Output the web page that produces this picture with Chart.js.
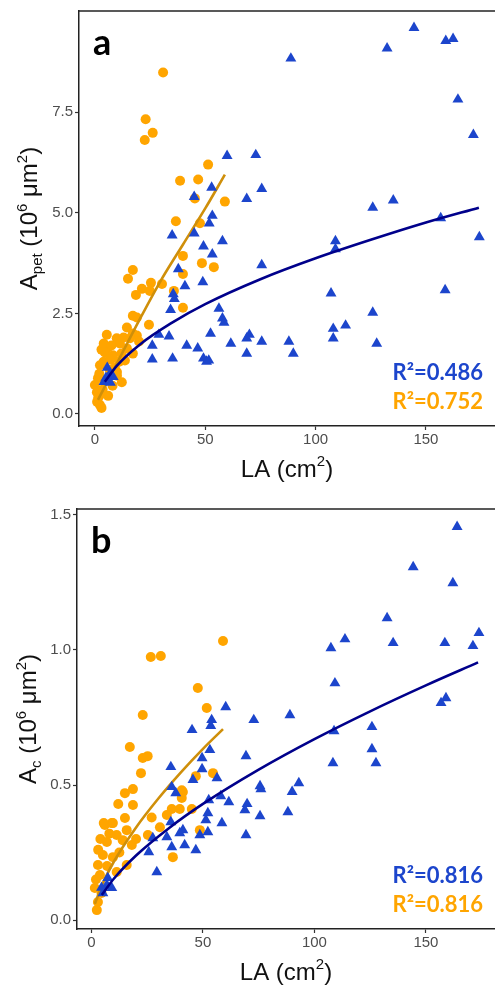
<!DOCTYPE html>
<html>
<head>
<meta charset="utf-8">
<script src="https://cdn.jsdelivr.net/npm/chart.js@4.4.1/dist/chart.umd.min.js"></script>
<style>
  html, body { margin: 0; padding: 0; background: #fff; }
  .panel { position: absolute; left: 0; width: 495px; height: 495px; }
</style>
</head>
<body>
<div class="panel" style="top:0"><canvas id="chartA" width="495" height="495"></canvas></div>
<div class="panel" style="top:495px"><canvas id="chartB" width="495" height="495"></canvas></div>
<script>
// panel a : LA (cm2) vs A_pet (10^6 um2)
const aTriangles = [
  [144.6,9.6],[132.4,9.09],[159,9.28],[162.3,9.33],[88.8,8.84],[164.5,7.82],[171.5,6.94],[59.9,6.42],[72.9,6.44],
  [52.9,5.63],[75.6,5.6],[45,5.4],[68.8,5.35],[125.9,5.13],[135.2,5.31],[156.7,4.87],[174.2,4.4],[53.2,4.93],
  [51.8,4.74],[35,4.44],[45,4.49],[49.2,4.17],[57.8,4.3],[53.2,3.97],[109,4.3],[109,4.1],[75.6,3.7],[37.8,3.6],
  [40.8,3.18],[48.9,3.28],[35.5,2.98],[36,2.86],[107,3.0],[158.7,3.08],[34.3,2.59],[56.2,2.62],[57.8,2.38],
  [58.5,2.27],[125.9,2.52],[108,2.12],[113.6,2.2],[52.4,2.0],[29,1.97],[33.6,1.93],[70,1.97],[26,1.7],[41.6,1.7],
  [46.6,1.63],[61.6,1.75],[68.8,1.88],[75.6,1.8],[87.9,1.8],[89.9,1.5],[68.8,1.5],[108,1.88],[127.7,1.75],
  [26,1.36],[35.2,1.38],[49.2,1.38],[50.6,1.3],[51.6,1.33],[5.6,1.15],[4.1,0.8],[8.3,0.92],[6.8,1.0],[5,0.9],[7,0.78]
];
const aCircles = [
  [30.9,8.49],[23,7.33],[26.2,6.99],[22.6,6.81],[51.3,6.2],[38.6,5.8],[46.8,5.83],[45.3,5.36],[58.9,5.28],
  [36.7,4.79],[47.6,4.74],[39.9,3.93],[48.5,3.75],[53.9,3.65],[39.9,3.48],[17.2,3.58],[15,3.36],[21.3,3.11],
  [25.4,3.26],[30.4,3.23],[18.6,2.96],[24.9,3.06],[35.8,3.06],[39.9,2.64],[19,2.4],[24.5,2.22],[14.5,2.15],
  [5.4,1.97],[9.9,1.88],[17.2,2.0],[19,1.95],[17.2,2.44],[15.9,1.88],[4.5,1.53],[8.2,1.46],[14.5,1.63],[17.2,1.5],
  [2.3,1.21],[1.4,0.89],[12.2,0.79],[0.9,0.54],[2.3,0.22],[6.8,1.09],[10,1.04],[0,0.72],[2.3,0.47],[13.6,1.33],
  [5.9,1.65],[11.3,1.75],[3,0.15],[1.5,0.4],[3.5,0.6],[2,1.0],[4,1.3],[7,1.35],[9,1.15],[8,0.7],[11,1.3],
  [12,1.5],[3,1.6],[6,0.45],[1,0.3],[10,0.95],[4,1.75],[7.5,1.7],[13,1.9],[20,1.8]
];
const aTriangleFit = [[4.5,0.8],[10,1.2],[20,1.71],[35,2.27],[50,2.73],[75,3.35],[100,3.87],[125,4.33],[150,4.76],[174,5.13]];
const aCircleFit = [[1.4,0.35],[10,1.26],[20,2.32],[30,3.33],[40,4.22],[50,5.11],[58.9,5.95]];

// panel b : LA (cm2) vs A_c (10^6 um2)
const bTriangles = [
  [164,1.456],[144.3,1.307],[162.1,1.248],[132.6,1.118],[113.7,1.04],[107.4,1.007],[135.3,1.026],[158.5,1.026],
  [173.8,1.063],[171.1,1.015],[109.2,0.877],[159,0.822],[156.8,0.804],[72.8,0.741],[89,0.759],[108.8,0.7],
  [125.8,0.715],[125.8,0.633],[127.6,0.581],[108.3,0.581],[69.3,0.607],[75.6,0.496],[76,0.485],[93,0.507],[90,0.475],
  [69.8,0.43],[68.8,0.407],[75.6,0.385],[88.1,0.4],[69.3,0.315],[60.2,0.789],[53.9,0.741],[53.5,0.719],[45.1,0.704],
  [53.1,0.63],[49.6,0.6],[49.6,0.559],[35.6,0.567],[45.5,0.519],[56.3,0.526],[36,0.493],[37.8,0.47],[52.6,0.444],
  [58,0.459],[61.6,0.437],[52.2,0.396],[51.3,0.37],[58.5,0.359],[35.6,0.363],[41,0.333],[48.6,0.315],[52.2,0.326],
  [27.5,0.304],[33.8,0.307],[39.6,0.322],[36,0.27],[41.8,0.278],[46.8,0.259],[25.7,0.252],[29.3,0.178],[6.9,0.13],
  [5.1,0.1],[9.1,0.119],[7.3,0.156],[4.5,0.12]
];
const bCircles = [
  [59,1.033],[26.6,0.974],[31.1,0.978],[47.7,0.859],[51.7,0.785],[23,0.759],[17.2,0.641],[23,0.6],[25.2,0.607],
  [22.2,0.544],[46.8,0.533],[54.5,0.544],[15,0.47],[18.6,0.485],[18.6,0.426],[40.5,0.481],[40.5,0.452],[36,0.411],
  [39.6,0.411],[45,0.411],[33.8,0.389],[15,0.378],[5.5,0.359],[9.1,0.359],[6,0.352],[9.6,0.359],[15.8,0.333],
  [11.3,0.315],[6.9,0.289],[14,0.296],[18.1,0.278],[5.1,0.241],[9.6,0.233],[15.8,0.204],[2.9,0.204],[3.8,0.167],
  [11.3,0.178],[1.5,0.119],[2.9,0.067],[2.4,0.037],[30.7,0.344],[41,0.474],[36.5,0.233],[25.3,0.315],[48.6,0.333],
  [4,0.3],[3,0.26],[2,0.15],[4.5,0.1],[7,0.2],[12.5,0.25],[8,0.32],[20,0.3],[12,0.43],[27,0.38]
];
const bTriangleFit = [[4.6,0.093],[10,0.153],[20,0.239],[35,0.342],[50,0.43],[75,0.557],[100,0.67],[125,0.773],[150,0.869],[173.4,0.954]];
const bCircleFit = [[1.5,0.06],[5,0.135],[10,0.216],[20,0.343],[30,0.45],[40,0.546],[50,0.634],[59,0.707]];

const xTicks = [0, 50, 100, 150];
const aYTicks = [0, 2.5, 5, 7.5];
const bYTicks = [0, 0.5, 1, 1.5];

const BLUE = '#1c45cc';
const NAVY = '#00008b';
const ORANGE = '#ffa500';
const GOLD = '#cf8f0a';

const toXY = arr => arr.map(p => ({ x: p[0], y: p[1] }));

// draws panel letter, R2 labels, axis titles with sub/superscripts
const textPlugin = {
  id: 'panelText',
  afterDraw(chart, args, opts) {
    const c = chart.ctx;
    const area = chart.chartArea;
    c.save();
    // top border of the panel box
    c.strokeStyle = '#222';
    c.lineWidth = 1.5;
    c.beginPath();
    c.moveTo(area.left, area.top);
    c.lineTo(area.right, area.top);
    c.stroke();

    c.fillStyle = '#000';
    c.font = 'bold 36px Lato';
    c.textAlign = 'left';
    c.textBaseline = 'alphabetic';
    c.fillText(opts.letter, area.left + 14, area.top + 44);

    c.textAlign = 'right';
    c.font = 'bold 22px Lato';
    c.fillStyle = BLUE;
    c.fillText(opts.r2Blue, area.right - 12, area.bottom - 46);
    c.fillStyle = ORANGE;
    c.fillText(opts.r2Orange, area.right - 12, area.bottom - 17);

    // x title
    drawRich(c, [['LA (cm', 0, 24], ['2', -11, 15], [')', 0, 24]], (area.left + area.right) / 2, area.bottom + 51);

    // y title, rotated
    c.translate(opts.yTitleX, (area.top + area.bottom) / 2);
    c.rotate(-Math.PI / 2);
    drawRich(c, opts.yTitle, 0, 0);
    c.restore();
  }
};

function drawRich(c, parts, cx, baseY) {
  c.fillStyle = '#111';
  c.textAlign = 'left';
  let total = 0;
  parts.forEach(p => {
    c.font = p[2] + 'px "Liberation Sans"';
    total += c.measureText(p[0]).width;
  });
  let x = cx - total / 2;
  parts.forEach(p => {
    c.font = p[2] + 'px "Liberation Sans"';
    c.fillText(p[0], x, baseY + p[1]);
    x += c.measureText(p[0]).width;
  });
}

function makeChart(id, cfg) {
  const tickFont = { family: 'Liberation Sans', size: 15 };
  return new Chart(document.getElementById(id), {
    type: 'scatter',
    data: {
      datasets: [
        { data: toXY(cfg.triFit), showLine: true, borderColor: NAVY, borderWidth: 2.6, pointRadius: 0, cubicInterpolationMode: 'monotone', clip: false },
        { data: toXY(cfg.tri), pointStyle: 'triangle', pointRadius: 6.3, backgroundColor: BLUE, borderWidth: 0, clip: false },
        { data: toXY(cfg.circFit), showLine: true, borderColor: GOLD, borderWidth: 2.6, pointRadius: 0, cubicInterpolationMode: 'monotone', clip: false },
        { data: toXY(cfg.circ), pointStyle: 'circle', pointRadius: 5, backgroundColor: ORANGE, borderWidth: 0, clip: false }
      ]
    },
    options: {
      responsive: false,
      animation: false,
      events: [],
      layout: { autoPadding: false, padding: { top: cfg.top, right: 0, left: 0, bottom: 0 } },
      plugins: {
        legend: { display: false },
        tooltip: { enabled: false },
        panelText: cfg.text
      },
      scales: {
        x: {
          type: 'linear',
          min: cfg.xMin, max: cfg.xMax,
          afterBuildTicks: s => { s.ticks = xTicks.map(v => ({ value: v })); },
          afterFit: s => { s.height = cfg.xAxisH; },
          ticks: { color: '#4d4d4d', font: tickFont, padding: 1, maxRotation: 0 },
          grid: { drawOnChartArea: false, drawTicks: true, tickLength: 4, tickColor: '#333', tickWidth: 1.2 },
          border: { display: true, color: '#222', width: 1.5 }
        },
        y: {
          type: 'linear',
          min: cfg.yMin, max: cfg.yMax,
          afterBuildTicks: s => { s.ticks = cfg.yTicks.map(v => ({ value: v })); },
          afterFit: s => { s.width = cfg.yAxisW; },
          ticks: { color: '#4d4d4d', font: tickFont, padding: 2, callback: v => v.toFixed(1) },
          grid: { drawOnChartArea: false, drawTicks: true, tickLength: 4, tickColor: '#333', tickWidth: 1.2 },
          border: { display: true, color: '#222', width: 1.5 }
        }
      }
    },
    plugins: [textPlugin]
  });
}

makeChart('chartA', {
  tri: aTriangles, circ: aCircles, triFit: aTriangleFit, circFit: aCircleFit,
  xMin: -7.2, xMax: 181.3, yMin: -0.3, yMax: 10.02, yTicks: aYTicks,
  top: 8, xAxisH: 69, yAxisW: 79,
  text: {
    letter: 'a', r2Blue: 'R\u00b2=0.486', r2Orange: 'R\u00b2=0.752', yTitleX: 37,
    yTitle: [['A', 0, 24], ['pet', 5, 15], [' (10', 0, 24], ['6', -10, 15], [' \u03bcm', 0, 24], ['2', -10, 15], [')', 0, 24]]
  }
});

makeChart('chartB', {
  tri: bTriangles, circ: bCircles, triFit: bTriangleFit, circFit: bCircleFit,
  xMin: -6.5, xMax: 181, yMin: -0.033, yMax: 1.522, yTicks: bYTicks,
  top: 14, xAxisH: 61, yAxisW: 77,
  text: {
    letter: 'b', r2Blue: 'R\u00b2=0.816', r2Orange: 'R\u00b2=0.816', yTitleX: 36,
    yTitle: [['A', 0, 24], ['c', 5, 15], [' (10', 0, 24], ['6', -10, 15], [' \u03bcm', 0, 24], ['2', -10, 15], [')', 0, 24]]
  }
});
</script>
</body>
</html>
